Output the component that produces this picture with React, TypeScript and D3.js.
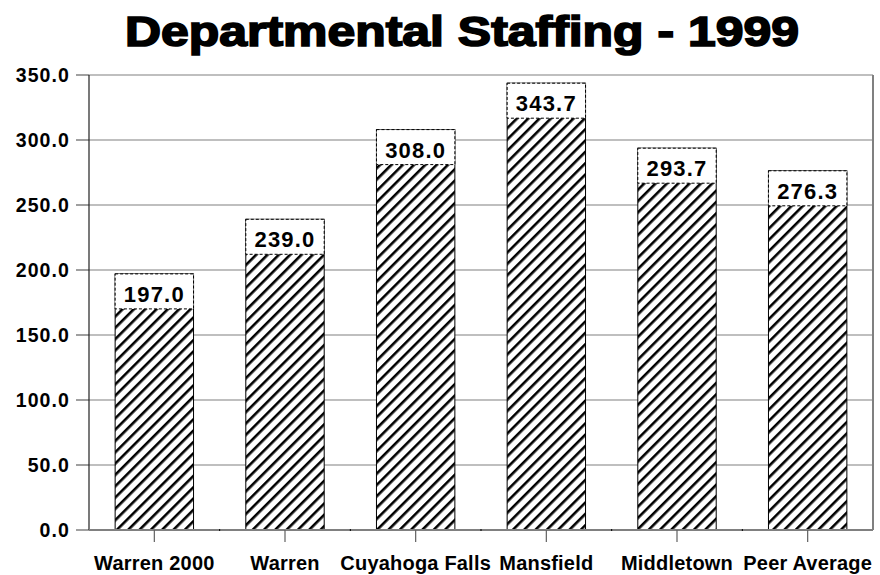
import React from "react";
import * as d3 from "d3";

const categories = ["Warren 2000", "Warren", "Cuyahoga Falls", "Mansfield", "Middletown", "Peer Average"];
const values = [197.0, 239.0, 308.0, 343.7, 293.7, 276.3];
const yTicks = [0, 50, 100, 150, 200, 250, 300, 350];
const titleText = "Departmental Staffing - 1999";

const W = 880;
const H = 575;
const M = { left: 89, right: 873, top: 75, bottom: 530 };

export default function App() {
  const x = d3.scaleBand<string>().domain(categories).range([M.left, M.right]).paddingInner(0.4).paddingOuter(0.2);
  const band = d3.scaleBand<string>().domain(categories).range([M.left, M.right]).padding(0);
  const y = d3.scaleLinear().domain([0, 350]).range([M.bottom, M.top]);
  const font = "'Liberation Sans', Arial, sans-serif";
  const boxH = 35;

  return (
    <svg width={W} height={H} style={{ position: "absolute", left: 0, top: 0, background: "#fff" }}>
      <defs>
        <pattern id="hatch" patternUnits="userSpaceOnUse" width={8} height={8} patternTransform="rotate(45)">
          <rect width={8} height={8} fill="#fff" />
          <rect x={0} y={0} width={2.6} height={8} fill="#000" />
        </pattern>
      </defs>
      <rect width={W} height={H} fill="#fff" />
      <text
        x={462}
        y={46}
        textAnchor="middle"
        fontFamily={font}
        fontWeight="bold"
        fontSize={42}
        stroke="#000"
        strokeWidth={1.7}
        textLength={674}
        lengthAdjust="spacingAndGlyphs"
      >
        {titleText}
      </text>
      {/* gridlines */}
      {yTicks.map((t) => (
        <line key={"g" + t} x1={M.left} x2={M.right} y1={y(t)} y2={y(t)} stroke="#808080" strokeWidth={1.2} />
      ))}
      {/* right border */}
      <line x1={M.right} x2={M.right} y1={M.top} y2={M.bottom} stroke="#808080" strokeWidth={2} />
      {/* y ticks and labels */}
      {yTicks.map((t) => (
        <g key={"t" + t}>
          <line x1={76} x2={M.left} y1={y(t)} y2={y(t)} stroke="#606060" strokeWidth={1.2} />
          <text
            x={70}
            y={y(t) + 7}
            textAnchor="end"
            fontFamily={font}
            fontWeight="bold"
            fontSize={19.5}
            letterSpacing={1.1}
          >
            {t.toFixed(1)}
          </text>
        </g>
      ))}
      {/* bars */}
      {categories.map((c, i) => {
        const bx = x(c)!;
        const bw = x.bandwidth();
        const top = y(values[i]);
        return (
          <g key={c}>
            <rect x={bx} y={top} width={bw} height={M.bottom - top} fill="url(#hatch)" stroke="#000" strokeWidth={1} />
            <rect x={bx} y={top} width={bw} height={boxH} fill="#fff" stroke="#000" strokeWidth={1} strokeDasharray="3,2" />
            <text
              x={bx + bw / 2}
              y={top + 28}
              textAnchor="middle"
              fontFamily={font}
              fontWeight="bold"
              fontSize={22}
              letterSpacing={1.2}
            >
              {values[i].toFixed(1)}
            </text>
          </g>
        );
      })}
      {/* y axis line */}
      <line x1={M.left} x2={M.left} y1={M.top} y2={M.bottom} stroke="#202020" strokeWidth={1.2} />
      {/* x axis */}
      <line x1={M.left} x2={M.right} y1={M.bottom} y2={M.bottom} stroke="#808080" strokeWidth={2} />
      {categories.map((c, i) => (
        <g key={"x" + c}>
          <line
            x1={band(c)! + band.bandwidth() / 2}
            x2={band(c)! + band.bandwidth() / 2}
            y1={M.bottom}
            y2={M.bottom + 12}
            stroke="#606060"
            strokeWidth={1.2}
          />
          {i > 0 && <line x1={band(c)!} x2={band(c)!} y1={M.bottom - 1} y2={M.bottom + 1} stroke="#000" strokeWidth={1} />}
          <text
            x={band(c)! + band.bandwidth() / 2}
            y={570}
            textAnchor="middle"
            fontFamily={font}
            fontWeight="bold"
            fontSize={20}
            letterSpacing={0.2}
          >
            {c}
          </text>
        </g>
      ))}
    </svg>
  );
}
